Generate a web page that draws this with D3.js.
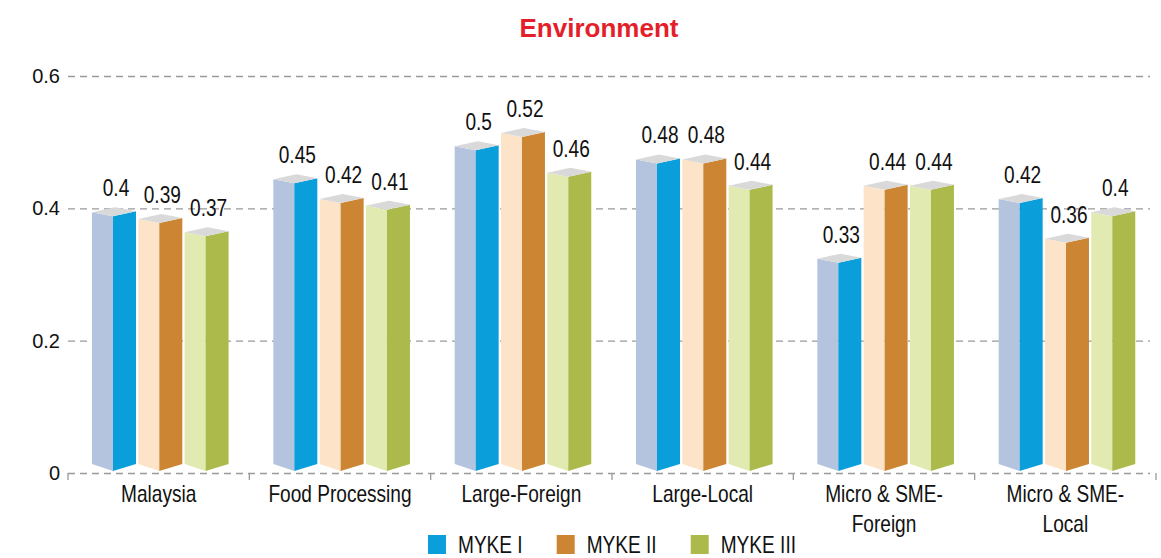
<!DOCTYPE html>
<html>
<head>
<meta charset="utf-8">
<script src="https://cdn.jsdelivr.net/npm/d3@7"></script>
<style>
  html, body { margin: 0; padding: 0; background: #ffffff; }
  svg text { font-family: "Liberation Sans", Arial, Helvetica, sans-serif; fill: #111; }
</style>
</head>
<body>
<svg id="chart" width="1161" height="558"></svg>
<script>
// ---- data ----
const categories = ["Malaysia", "Food Processing", "Large-Foreign", "Large-Local", "Micro & SME-Foreign", "Micro & SME-Local"];
const seriesNames = ["MYKE I", "MYKE II", "MYKE III"];
const mykeI   = [0.40, 0.45, 0.50, 0.48, 0.33, 0.42];
const mykeII  = [0.39, 0.42, 0.52, 0.48, 0.44, 0.36];
const mykeIII = [0.37, 0.41, 0.46, 0.44, 0.44, 0.40];
const yTickValues = [0, 0.2, 0.4, 0.6];
const chartTitle = "Environment";

// ---- styles ----
const frontColors = ["#0a9fdb", "#cc8532", "#abba4b"];   // shaded (right) faces and legend
const sideColors  = ["#b5c4de", "#fde4c9", "#e1ebb1"];   // lit (left) faces
const topColor = "#d9d9d9";
const gridColor = "#9a9a9a";
const FONT = '"Liberation Sans", Arial, sans-serif';
const LABEL_SIZE = 23;     // condensed labels: tall glyphs, squeezed horizontally
const SQUEEZE = 0.83;
const WRAP_WIDTH = 150;

const ctx = document.createElement("canvas").getContext("2d");
function textWidth(s, size) {
  ctx.font = `${size}px ${FONT}`;
  return ctx.measureText(s).width;
}

const svg = d3.select("#chart");
const margin = { left: 68, right: 5, top: 76, bottom: 85 };
const W = 1161, H = 558;

const table = categories.map((c, i) => ({
  category: c,
  values: [mykeI[i], mykeII[i], mykeIII[i]].map((v, k) => ({ series: seriesNames[k], k, value: v }))
}));

const x0 = d3.scaleBand().domain(categories).range([margin.left, W - margin.right]).padding(0);
const x1 = d3.scaleBand().domain(seriesNames).range([24, 24 + 136.6]).paddingInner(0.05);
const y = d3.scaleLinear().domain([0, 0.6]).range([473, 76]);

// condensed text placed at (x, y)
function condensed(sel, x, yy) {
  return sel.attr("x", 0).attr("y", 0)
    .attr("transform", `translate(${x},${yy}) scale(${SQUEEZE},1)`)
    .style("font-size", LABEL_SIZE + "px");
}

// title
svg.append("text")
  .attr("x", 599).attr("y", 37)
  .attr("text-anchor", "middle")
  .style("font-size", "26px").style("font-weight", "bold")
  .style("fill", "#e41f2b")
  .text(chartTitle);

// horizontal dashed gridlines with y tick labels
const yAxis = d3.axisLeft(y).tickValues(yTickValues)
  .tickSize(-(1150 - margin.left)).tickPadding(8)
  .tickFormat(d => String(d));
const gy = svg.append("g").attr("transform", `translate(${margin.left},0)`).call(yAxis);
gy.select(".domain").remove();
gy.selectAll(".tick line")
  .attr("stroke", gridColor).attr("stroke-width", 1.3).attr("stroke-dasharray", "7,5");
gy.selectAll(".tick text")
  .style("font-size", "20px").style("font-family", FONT).attr("fill", "#111");

// category axis: small ticks at band boundaries
const bounds = categories.map(c => x0(c)).concat([x0(categories[categories.length - 1]) + x0.bandwidth()]);
svg.append("g").selectAll("line").data(bounds).join("line")
  .attr("x1", d => d).attr("x2", d => d)
  .attr("y1", y(0)).attr("y2", y(0) + 7)
  .attr("stroke", gridColor).attr("stroke-width", 1.3);

// wrapping of category labels
function wrapLabel(text, maxW) {
  const wOf = s => textWidth(s, LABEL_SIZE) * SQUEEZE;
  if (wOf(text) <= maxW) return [text];
  let best = -1;
  for (let i = 1; i < text.length; i++) {
    const breakHere = text[i - 1] === "-" || text[i] === " ";
    if (!breakHere) continue;
    if (wOf(text.slice(0, i).trim()) <= maxW) best = i;
  }
  if (best < 0) return [text];
  return [text.slice(0, best).trim(), text.slice(best).trim()];
}

svg.append("g").selectAll("text").data(categories).join("text")
  .attr("text-anchor", "middle")
  .each(function (d) {
    const t = condensed(d3.select(this), x0(d) + x0.bandwidth() / 2, 502);
    wrapLabel(d, WRAP_WIDTH).forEach((ln, i) => {
      t.append("tspan").attr("x", 0).attr("dy", i === 0 ? 0 : 30).text(ln);
    });
  });

// 3D prism bars
const FRONT = 21;          // x offset of the front edge inside a bar
const y0 = y(0);
const groups = svg.append("g").selectAll("g").data(table).join("g")
  .attr("transform", d => `translate(${x0(d.category)},0)`);

const bars = groups.selectAll("g.bar").data(d => d.values).join("g").attr("class", "bar");

function pts(arr) { return arr.map(p => p.join(",")).join(" "); }

bars.each(function (d) {
  const g = d3.select(this);
  const xl = x1(d.series), w = x1.bandwidth(), xf = xl + FRONT, xr = xl + w;
  const yv = y(d.value);
  // left (lit) face
  g.append("polygon")
    .attr("points", pts([[xl, yv + 4], [xf, yv + 8], [xf, y0 - 2], [xl, y0 - 9]]))
    .attr("fill", sideColors[d.k]);
  // right (shaded) face
  g.append("polygon")
    .attr("points", pts([[xf, yv + 8], [xr, yv + 3], [xr, y0 - 9], [xf, y0 - 2]]))
    .attr("fill", frontColors[d.k]);
  // top face
  g.append("polygon")
    .attr("points", pts([[xl, yv + 4], [xl + (w - FRONT), yv - 1], [xr, yv + 3], [xf, yv + 8]]))
    .attr("fill", topColor);
  // value label
  condensed(g.append("text"), xl + w / 2 + 2, yv - 12)
    .attr("text-anchor", "middle")
    .text(String(d.value));
});

// legend
const legend = svg.append("g");
const sq = 18, gapText = 12, gapItem = 34;
const widths = seriesNames.map(s => textWidth(s, LABEL_SIZE) * SQUEEZE);
const total = widths.reduce((a, b) => a + b, 0) + seriesNames.length * (sq + gapText) + (seriesNames.length - 1) * gapItem;
let lx = (margin.left + W - margin.right) / 2 - total / 2;
seriesNames.forEach((s, i) => {
  legend.append("rect")
    .attr("x", lx).attr("y", 535).attr("width", sq).attr("height", 19)
    .attr("fill", frontColors[i]);
  condensed(legend.append("text"), lx + sq + gapText, 553).text(s);
  lx += sq + gapText + widths[i] + gapItem;
});
</script>
</body>
</html>
